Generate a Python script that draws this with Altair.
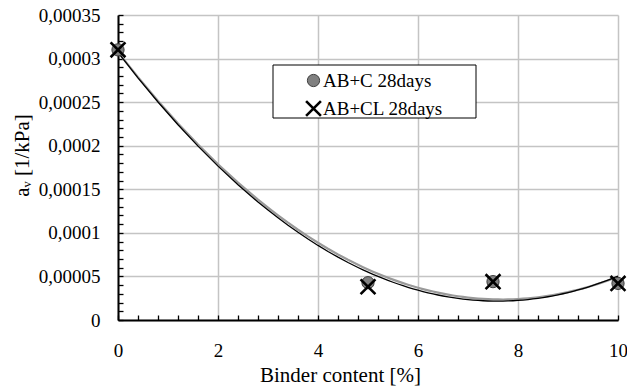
import altair as alt
import pandas as pd

# Binder content (%) and measured coefficient of compressibility a_v (1/kPa)
binder = [0, 5, 7.5, 10]
av_c = [0.00031, 0.0000428, 0.000044, 0.000042]
av_cl = [0.00031, 0.0000382, 0.000044, 0.000042]
series_names = ["AB+C 28days", "AB+CL 28days"]

# Axis tick values
x_major = [0, 2, 4, 6, 8, 10]
x_minor = [round(i * 0.4, 1) for i in range(26)]
y_major = [0, 0.00005, 0.0001, 0.00015, 0.0002, 0.00025, 0.0003, 0.00035]
y_minor = [round(i * 0.00001, 5) for i in range(36)]

df = pd.DataFrame({
    "binder": binder * 2,
    "av": av_c + av_cl,
    "series": [series_names[0]] * len(binder) + [series_names[1]] * len(binder),
})

FONT = "Liberation Serif"
X_PATH = "M-1,-1L1,1M-1,1L1,-1"
W, H = 500, 305

x_scale = alt.Scale(domain=[0, 10], nice=False, zero=False)
y_scale = alt.Scale(domain=[0, 0.00035], nice=False)

# Main axes: labels, grid, axis lines
x_main = alt.Axis(
    values=x_major, grid=True, gridColor="#c4c4c4", gridWidth=1.5,
    ticks=False, domainColor="black", domainWidth=2,
    labelFont=FONT, labelFontSize=19, labelColor="black", labelPadding=21,
    labelFlush=False, labelOverlap=False, labelBound=False,
    title="Binder content [%]", titleFont=FONT, titleFontSize=21,
    titleFontWeight="normal", titleColor="black",
    titleX=222, titleY=61, titleAlign="center", titleBaseline="alphabetic",
)
y_main = alt.Axis(
    values=y_major, grid=True, gridColor="#c4c4c4", gridWidth=1.5,
    ticks=False, domainColor="black", domainWidth=2,
    labelFont=FONT, labelFontSize=19, labelColor="black", labelPadding=18,
    labelFlush=False, labelOverlap=False, labelBound=False,
    labelExpr="replace(toString(datum.value), '.', ',')",
    title="aᵥ [1/kPa]", titleFont=FONT, titleFontSize=21,
    titleFontWeight="normal", titleColor="black",
    titleAngle=270, titleX=-96, titleY=140,
    titleAlign="center", titleBaseline="middle",
)

# Inward-pointing tick axes placed on the opposite side and shifted back
x_ticks = alt.Axis(
    orient="top", offset=-H, values=x_minor, labels=False, domain=False,
    grid=False, ticks=True, tickSize=5, tickColor="black", tickWidth=1.3,
    title=None,
)
y_ticks = alt.Axis(
    orient="right", offset=-W, values=y_minor, labels=False, domain=False,
    grid=False, ticks=True, tickSize=5, tickColor="black", tickWidth=1.3,
    title=None,
)

base = alt.Chart(df)

trend_c = base.transform_filter(
    alt.datum.series == series_names[0]
).transform_regression(
    "binder", "av", method="poly", order=2
).mark_line(color="#9a9a9a", strokeWidth=2.2).encode(
    x=alt.X("binder:Q", scale=x_scale, axis=x_main),
    y=alt.Y("av:Q", scale=y_scale, axis=y_main),
)

trend_cl = base.transform_filter(
    alt.datum.series == series_names[1]
).transform_regression(
    "binder", "av", method="poly", order=2
).mark_line(color="black", strokeWidth=1.3).encode(
    x=alt.X("binder:Q", scale=x_scale, axis=None),
    y=alt.Y("av:Q", scale=y_scale, axis=None),
)

# White framed box behind the legend entries
legend_box = alt.Chart(pd.DataFrame({"box": [0]})).mark_rect(
    fill="white", stroke="black", strokeWidth=1
).encode(
    x=alt.value(155), x2=alt.value(358), y=alt.value(50), y2=alt.value(103)
)

legend = alt.Legend(
    title=None, orient="none", legendX=155, legendY=54, padding=2,
    labelFont=FONT, labelFontSize=19, labelColor="black",
    labelBaseline="middle", labelLimit=0,
    symbolOffset=29, labelOffset=0, rowPadding=4,
)

points = base.mark_point(opacity=1).encode(
    x=alt.X("binder:Q", scale=x_scale, axis=x_ticks),
    y=alt.Y("av:Q", scale=y_scale, axis=y_ticks),
    shape=alt.Shape("series:N", scale=alt.Scale(domain=series_names, range=["circle", X_PATH]), legend=legend),
    fill=alt.Fill("series:N", scale=alt.Scale(domain=series_names, range=["#808080", "transparent"]), legend=legend),
    stroke=alt.Stroke("series:N", scale=alt.Scale(domain=series_names, range=["#3c3c3c", "black"]), legend=legend),
    strokeWidth=alt.StrokeWidth("series:N", scale=alt.Scale(domain=series_names, range=[1, 2.6]), legend=legend),
    size=alt.Size("series:N", scale=alt.Scale(domain=series_names, range=[150, 220]), legend=legend),
)

chart = alt.layer(trend_c, trend_cl, legend_box, points).resolve_axis(
    x="independent", y="independent"
).properties(
    width=W, height=H,
    autosize=alt.AutoSizeParams(type="none"),
    padding={"left": 118, "top": 15, "right": 9, "bottom": 67},
    background="white",
).configure_view(
    stroke=None
).configure_legend(
    labelFont=FONT, labelFontSize=19, labelColor="black"
)

chart.save("out.html", embed_options={"renderer": "svg", "actions": False})
